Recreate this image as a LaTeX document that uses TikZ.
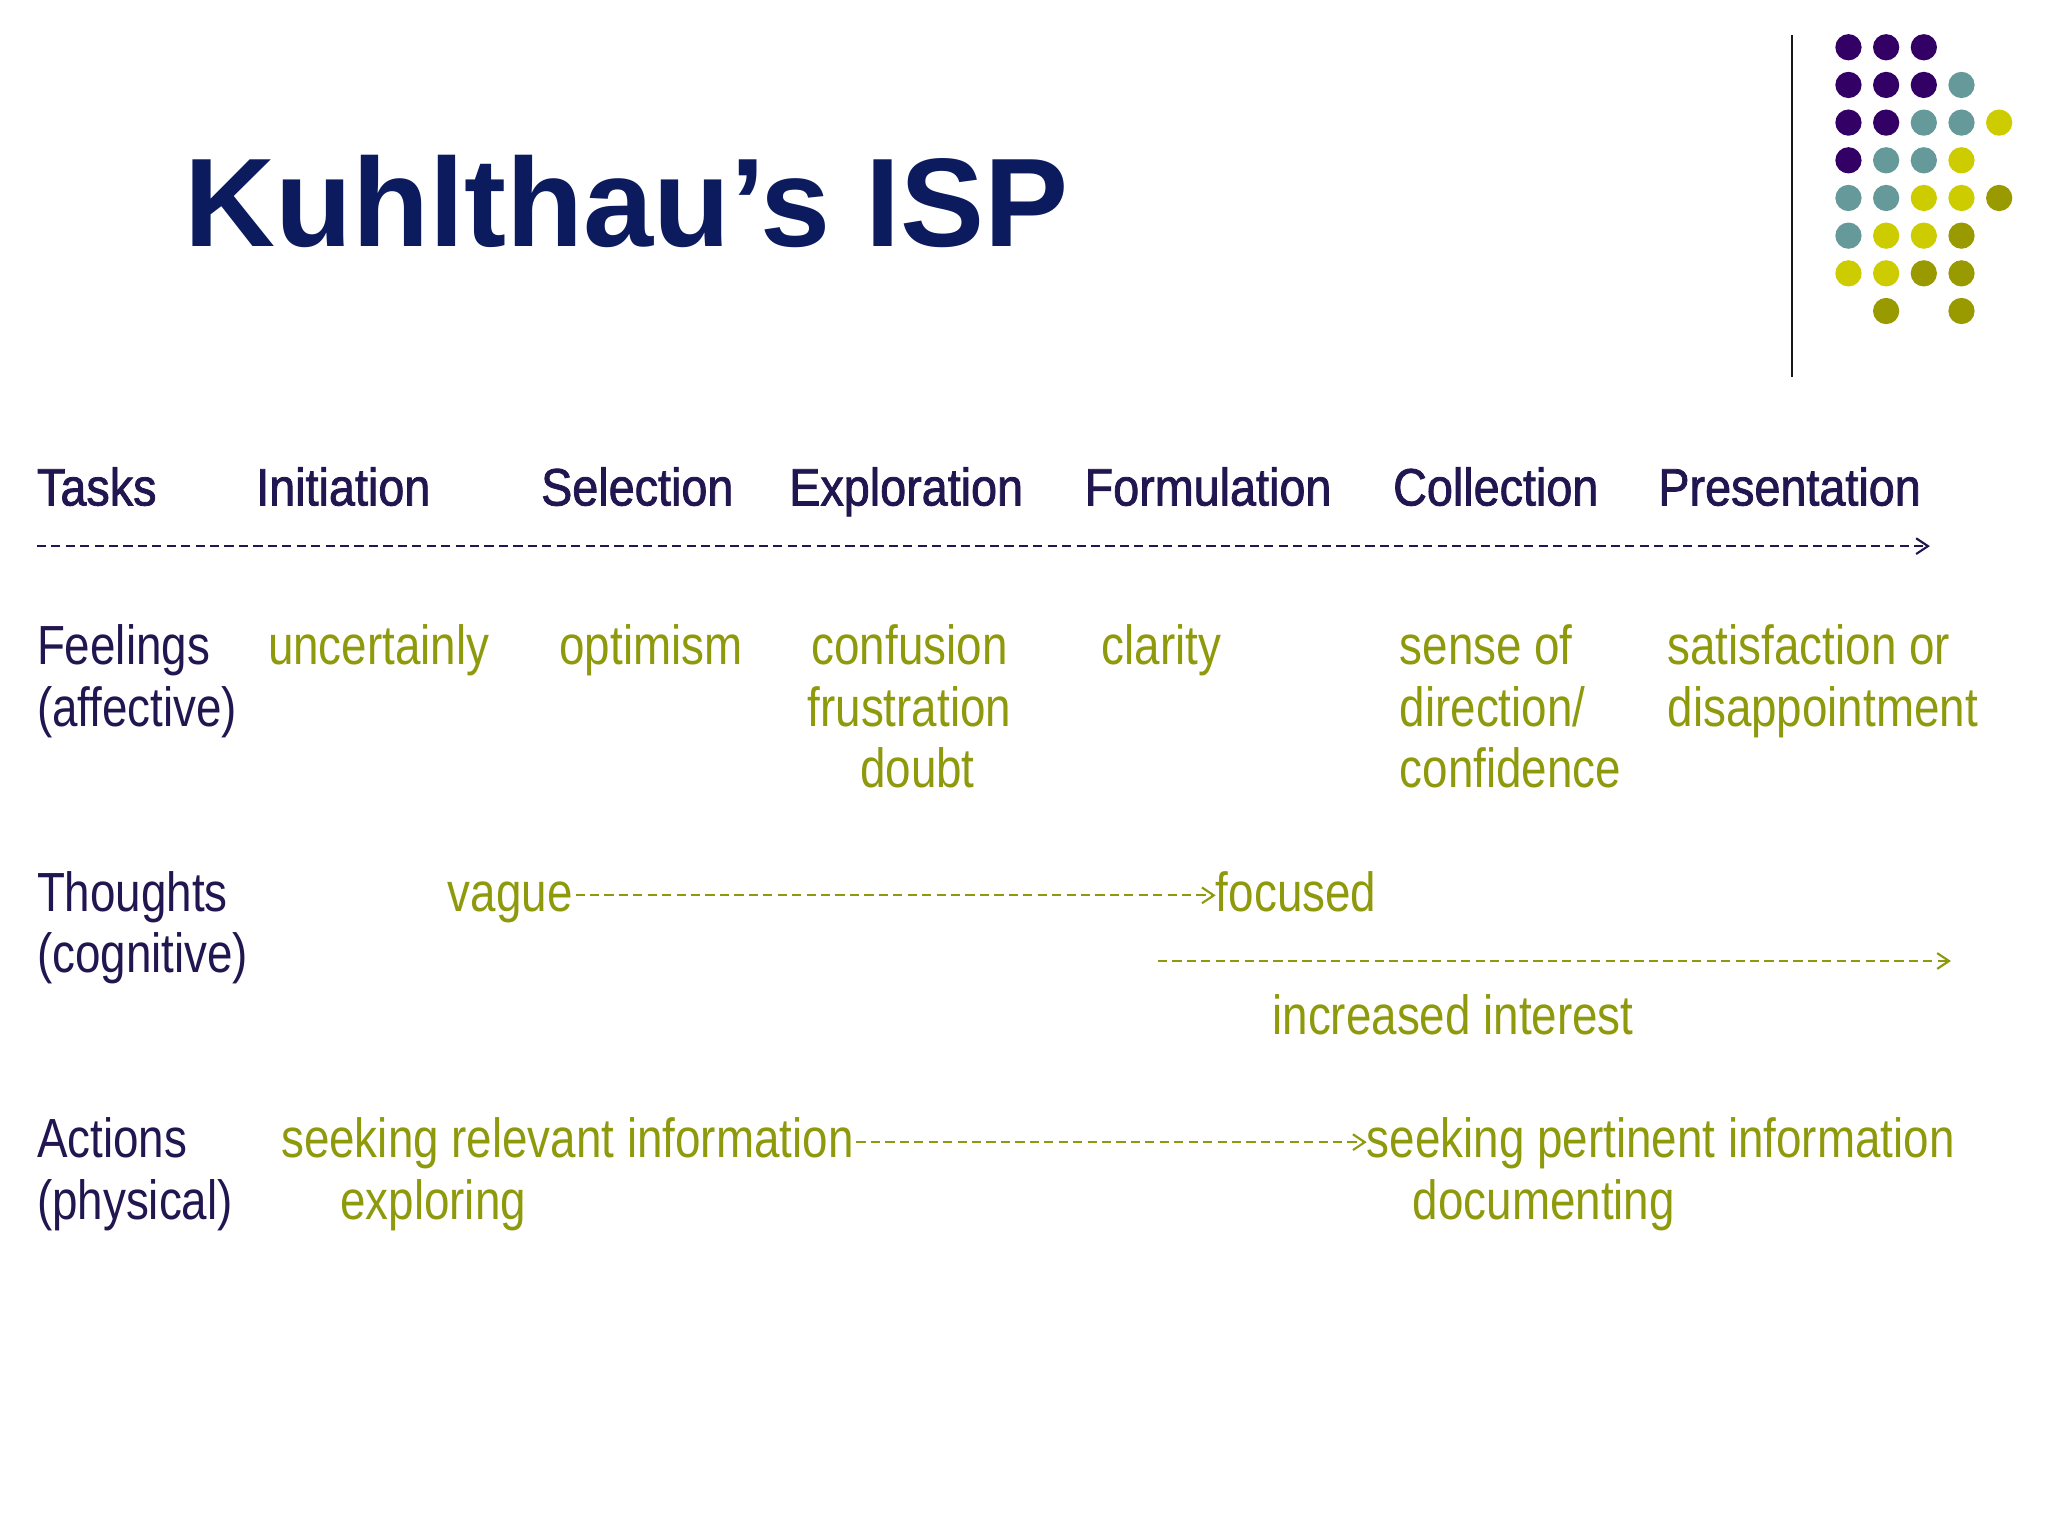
\documentclass[tikz,border=0pt]{standalone}
\usepackage{fontspec}
\setmainfont{Liberation Sans}
\newfontfamily\narrowf[FakeStretch=0.83]{Liberation Sans}
\newfontfamily\headf[FakeStretch=0.89,FakeBold=1.5]{Liberation Sans}
\usetikzlibrary{arrows.meta}
\definecolor{navy}{HTML}{0C1A5E}
\definecolor{ink}{HTML}{221650}
\definecolor{oliv}{HTML}{8E9A0C}
\definecolor{dP}{HTML}{330066}
\definecolor{dT}{HTML}{669999}
\definecolor{dY}{HTML}{CCCC00}
\definecolor{dO}{HTML}{999900}
\tikzset{
 hd/.style={anchor=base west,inner sep=0pt,text=ink,font=\headf\fontsize{40}{44}\selectfont},
 lb/.style={anchor=base west,inner sep=0pt,text=ink,font=\narrowf\fontsize{42}{47}\selectfont},
 it/.style={anchor=base west,inner sep=0pt,text=oliv,font=\narrowf\fontsize{42}{47}\selectfont},
 dl/.style={dash pattern=on 7pt off 4pt,line width=1.6pt,-{Straight Barb[length=9pt,width=12pt,line width=1.6pt]}},
 dot/.style={circle,inner sep=0pt,minimum size=20pt},
}
\begin{document}
\begin{tikzpicture}[x=1pt,y=-1pt]
\useasboundingbox[fill=white] (0,0) rectangle (1560,1170);
\node[anchor=base west,inner sep=0pt,text=navy,font=\bfseries\fontsize{96}{100}\selectfont] (title) at (140,188) {Kuhlthau’s ISP};
\draw[line width=2pt,black!90] (1365,27) coordinate (vt) -- (1365,287) coordinate (vb);
\foreach \r/\row in {0/{P,P,P,N,N},1/{P,P,P,T,N},2/{P,P,T,T,Y},3/{P,T,T,Y,N},4/{T,T,Y,Y,O},5/{T,Y,Y,O,N},6/{Y,Y,O,O,N},7/{N,O,N,O,N}}{
 \foreach \c [count=\i from 0] in \row {
  \if N\c\else \node[dot,fill=d\c] (d\r\i) at (1408+28.7*\i,36+28.7*\r) {};\fi
 }}
% headers
\node[hd] (tasks) at (28,385) {Tasks};
\node[hd] (ini) at (195,385) {Initiation};
\node[hd] (sel) at (412,385) {Selection};
\node[hd] (exp) at (601,385) {Exploration};
\node[hd] (for) at (826,385) {Formulation};
\node[hd] (col) at (1061,385) {Collection};
\node[hd] (pre) at (1263,385) {Presentation};
\coordinate (a1) at (28,416); \coordinate (a2) at (1470,416);
\draw[dl,ink] (a1) -- (a2);
% feelings
\node[lb] (fe1) at (28,506) {Feelings};
\node[lb] (fe2) at (28,553) {(affective)};
\node[it] (f1) at (204,506) {uncertainly};
\node[it] (f2) at (426,506) {optimism};
\node[it] (f3) at (618,506) {confusion};
\node[it] (f4) at (615,553) {frustration};
\node[it] (f5) at (655,600) {doubt};
\node[it] (f6) at (839,506) {clarity};
\node[it] (f7) at (1066,506) {sense of};
\node[it] (f8) at (1066,553) {direction/};
\node[it] (f9) at (1066,600) {confidence};
\node[it] (f10) at (1270,506) {satisfaction or};
\node[it] (f11) at (1270,553) {disappointment};
% thoughts
\node[lb] (th1) at (28,694) {Thoughts};
\node[lb] (th2) at (28,741) {(cognitive)};
\node[it] (vague) at (341,694) {vague};
\node[it] (focused) at (926,694) {focused};
\draw[dl,oliv] (vague.base east) ++(2,-12) coordinate (v1) -- (v1 -| focused.west);
\coordinate (b1) at (882,732); \coordinate (b2) at (1486,732);
\draw[dl,oliv] (b1) -- (b2);
\node[it] (inc) at (969,788) {increased interest};
% actions
\node[lb] (ac1) at (28,882) {Actions};
\node[lb] (ac2) at (28,929) {(physical)};
\node[it] (s1) at (214,882) {seeking relevant information};
\node[it] (s2) at (1041,882) {seeking pertinent information};
\node[it] (ex) at (259,929) {exploring};
\node[it] (doc) at (1076,929) {documenting};
\draw[dl,oliv] (s1.base east) ++(2,-12) coordinate (s1e) -- (s1e -| s2.west);
\end{tikzpicture}
\end{document}
